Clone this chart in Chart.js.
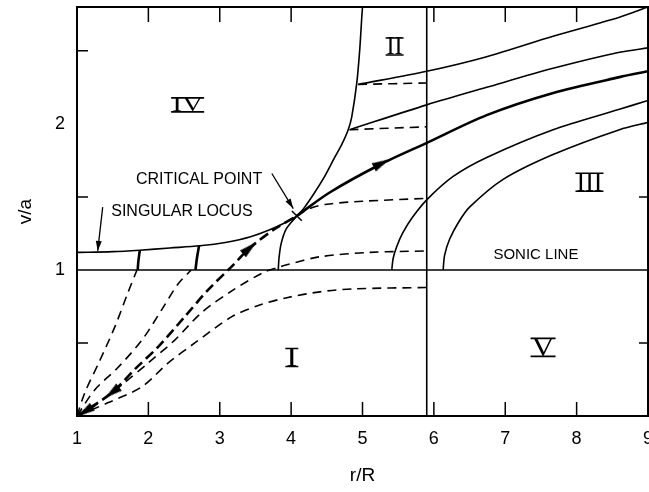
<!DOCTYPE html>
<html>
<head>
<meta charset="utf-8">
<script src="https://cdn.jsdelivr.net/npm/chart.js@4.4.1/dist/chart.umd.min.js"></script>
<style>
  html, body { margin: 0; padding: 0; background: #fff; }
</style>
</head>
<body>
<canvas id="plot" width="649" height="492"></canvas>
<script>
// tick labels and tick marks
var xTicks = [1, 2, 3, 4, 5, 6, 7, 8, 9];
var yTicks = [1, 2];
var bottomTicks = [2, 3, 4, 5, 6, 7, 8];
var topTicks = [2, 3, 4, 6, 7, 8];
var leftTicks = [0.5, 1.5, 2.5];
var rightTicks = [0.5, 1.5];

// curves, [r/R, v/a]
var singularLocus = [[1.00,1.12],[1.50,1.125],[1.88,1.135],[2.30,1.15],[2.72,1.165],[3.10,1.19],[3.42,1.225],[3.70,1.275],[3.90,1.32],[4.08,1.37],[4.19,1.43],[4.33,1.53],[4.47,1.64],[4.61,1.77],[4.71,1.86],[4.80,1.96],[4.85,2.05],[4.92,2.28],[4.96,2.50],[4.99,2.73],[5.00,2.80]];
var sepIn = [[1.00,0.00],[1.49,0.16],[1.81,0.32],[2.13,0.47],[2.51,0.68],[2.83,0.86],[3.18,1.03],[3.42,1.15],[3.77,1.28],[4.08,1.37]];
var sepOut = [[4.08,1.37],[4.54,1.53],[5.24,1.72],[5.90,1.87],[6.74,2.06],[7.66,2.21],[8.60,2.32],[9.00,2.36]];
var dash1 = [[1.00,0.00],[1.11,0.16],[1.32,0.38],[1.53,0.61],[1.71,0.84],[1.84,1.00]];
var tick1 = [[1.85,1.00],[1.86,1.06],[1.88,1.135]];
var dash2 = [[1.00,0.00],[1.25,0.18],[1.57,0.33],[1.91,0.52],[2.19,0.73],[2.41,0.90],[2.60,1.00]];
var tick2 = [[2.66,1.00],[2.68,1.08],[2.71,1.165]];
var dash4 = [[1.00,0.00],[1.25,0.07],[1.67,0.23],[1.99,0.36],[2.37,0.52],[2.75,0.71],[3.18,0.86],[3.60,0.98],[3.80,1.015],[3.94,1.035],[4.40,1.09],[5.10,1.12],[5.90,1.13]];
var dash5 = [[1.00,0.00],[1.43,0.09],[1.91,0.20],[2.27,0.36],[2.65,0.50],[3.17,0.68],[3.56,0.76],[3.94,0.81],[4.40,0.85],[4.87,0.87],[5.90,0.88]];
var critDash = [[4.08,1.37],[4.26,1.42],[4.50,1.45],[5.00,1.47],[5.90,1.49]];
var curveA = [[3.82,1.00],[3.83,1.08],[3.86,1.18],[3.93,1.28],[4.08,1.37]];
var curveB = [[5.41,1.00],[5.43,1.08],[5.48,1.16],[5.56,1.25],[5.70,1.36],[5.90,1.48],[6.27,1.64],[6.74,1.77],[7.67,1.96],[8.60,2.10],[9.00,2.16]];
var curveC = [[6.13,1.00],[6.15,1.10],[6.22,1.21],[6.35,1.33],[6.50,1.43],[6.97,1.62],[7.67,1.79],[8.60,1.96],[9.00,2.01]];
var line1 = [[4.94,2.27],[5.90,2.36],[6.74,2.46],[7.67,2.60],[8.60,2.73],[9.00,2.80]];
var line2 = [[4.82,1.96],[5.90,2.13],[6.74,2.25],[7.67,2.38],[8.60,2.49],[9.00,2.52]];
var dashII1 = [[4.94,2.27],[5.90,2.28]];
var dashII2 = [[4.82,1.96],[5.90,1.98]];
var sonicLine = [[1,1],[9,1]];
var divider = [[5.9,0],[5.9,2.8]];
var critical = [[4.08,1.37]];
// arrow heads: [x, y, rotation in degrees]
var arrows = [[3.42,1.15,49],[5.27,1.73,63],[1.11,0.03,237],[1.49,0.16,232]];

function pts(a) {
  return a.map(function(p) { return {x: p[0], y: p[1]}; });
}

function curve(data, width, dash) {
  return {
    data: pts(data),
    showLine: true,
    borderColor: '#000',
    borderWidth: width,
    borderDash: dash || [],
    pointRadius: 0,
    tension: 0.3,
    fill: false
  };
}

// slim arrow head used as point style
var head = document.createElement('canvas');
head.width = 9; head.height = 18;
var hc = head.getContext('2d');
hc.fillStyle = '#000';
hc.beginPath();
hc.moveTo(4.5, 0); hc.lineTo(9, 18); hc.lineTo(0, 18); hc.closePath();
hc.fill();

var thin = 1.6, thick = 2.6;
var dashed = [9, 6];

var datasets = [
  curve(sonicLine, thin),
  curve(divider, thin),
  curve(singularLocus, thin),
  curve(sepIn, thick, [10, 5]),
  curve(sepOut, thick),
  curve(dash1, thin, dashed),
  curve(tick1, thick),
  curve(dash2, thin, dashed),
  curve(tick2, thick),
  curve(dash4, thin, dashed),
  curve(dash5, thin, dashed),
  curve(critDash, thin, dashed),
  curve(curveA, thin),
  curve(curveB, thin),
  curve(curveC, thin),
  curve(line1, thin),
  curve(line2, thin),
  curve(dashII1, thin, dashed),
  curve(dashII2, thin, dashed),
  {
    data: pts(critical),
    showLine: false,
    pointStyle: 'crossRot',
    pointRadius: 7,
    borderColor: '#000',
    borderWidth: 1.5
  },
  {
    data: pts(arrows),
    showLine: false,
    pointStyle: head,
    rotation: arrows.map(function(a) { return a[2]; })
  }
];

function numeral(ctx, text, px, py, w, h) {
  ctx.save();
  ctx.font = '26px "Liberation Serif"';
  var m = ctx.measureText(text).width;
  ctx.translate(px, py);
  ctx.scale(w / m, h / 17);
  ctx.textAlign = 'center';
  ctx.textBaseline = 'middle';
  ctx.fillText(text, 0, 1);
  ctx.restore();
  ctx.beginPath();
  ctx.moveTo(px - w / 2 - 1, py - h / 2); ctx.lineTo(px + w / 2 + 1, py - h / 2);
  ctx.moveTo(px - w / 2 - 1, py + h / 2); ctx.lineTo(px + w / 2 + 1, py + h / 2);
  ctx.stroke();
}

function pointer(ctx, x0, y0, x1, y1) {
  ctx.beginPath();
  ctx.moveTo(x0, y0); ctx.lineTo(x1, y1);
  ctx.stroke();
  var ang = Math.atan2(y1 - y0, x1 - x0);
  ctx.beginPath();
  ctx.moveTo(x1, y1);
  ctx.lineTo(x1 - 10 * Math.cos(ang) + 3 * Math.sin(ang), y1 - 10 * Math.sin(ang) - 3 * Math.cos(ang));
  ctx.lineTo(x1 - 10 * Math.cos(ang) - 3 * Math.sin(ang), y1 - 10 * Math.sin(ang) + 3 * Math.cos(ang));
  ctx.closePath();
  ctx.fill();
}

var frame = {
  id: 'frame',
  afterDraw: function(chart) {
    var ctx = chart.ctx, a = chart.chartArea;
    var xs = chart.scales.x, ys = chart.scales.y;
    ctx.save();
    ctx.strokeStyle = '#000';
    ctx.fillStyle = '#000';
    ctx.lineWidth = 2;
    ctx.strokeRect(a.left, a.top, a.right - a.left, a.bottom - a.top);
    ctx.lineWidth = 1.5;
    ctx.beginPath();
    bottomTicks.forEach(function(v) { var p = xs.getPixelForValue(v); ctx.moveTo(p, a.bottom); ctx.lineTo(p, a.bottom - 14); });
    topTicks.forEach(function(v) { var p = xs.getPixelForValue(v); ctx.moveTo(p, a.top); ctx.lineTo(p, a.top + 15); });
    leftTicks.forEach(function(v) { var p = ys.getPixelForValue(v); ctx.moveTo(a.left, p); ctx.lineTo(a.left + 11, p); });
    rightTicks.forEach(function(v) { var p = ys.getPixelForValue(v); ctx.moveTo(a.right, p); ctx.lineTo(a.right - 9, p); });
    ctx.stroke();

    // text labels
    ctx.font = '16px "Liberation Sans"';
    ctx.textAlign = 'center';
    ctx.textBaseline = 'middle';
    ctx.fillText('CRITICAL POINT', xs.getPixelForValue(2.71), ys.getPixelForValue(1.62));
    ctx.fillText('SINGULAR LOCUS', xs.getPixelForValue(2.47), ys.getPixelForValue(1.40));
    ctx.font = '15px "Liberation Sans"';
    ctx.fillText('SONIC LINE', xs.getPixelForValue(7.43), ys.getPixelForValue(1.10));

    ctx.lineWidth = 1.3;
    pointer(ctx, xs.getPixelForValue(3.73), ys.getPixelForValue(1.66), xs.getPixelForValue(4.03), ys.getPixelForValue(1.42));
    pointer(ctx, xs.getPixelForValue(1.36), ys.getPixelForValue(1.43), xs.getPixelForValue(1.29), ys.getPixelForValue(1.13));

    // region numerals
    ctx.lineWidth = 1.6;
    numeral(ctx, 'IV', xs.getPixelForValue(2.55), ys.getPixelForValue(2.13), 31, 14);
    numeral(ctx, 'II', xs.getPixelForValue(5.45), ys.getPixelForValue(2.53), 16, 17);
    numeral(ctx, 'III', xs.getPixelForValue(8.18), ys.getPixelForValue(1.60), 26, 18);
    numeral(ctx, 'I', xs.getPixelForValue(4.01), ys.getPixelForValue(0.40), 11, 18);
    numeral(ctx, 'V', xs.getPixelForValue(7.53), ys.getPixelForValue(0.47), 23, 18);
    ctx.restore();
  }
};

var axisFont = { family: '"Liberation Sans", Arial, sans-serif', size: 18 };

new Chart(document.getElementById('plot'), {
  type: 'scatter',
  data: { datasets: datasets },
  options: {
    responsive: false,
    animation: false,
    devicePixelRatio: 1,
    layout: { autoPadding: false, padding: { top: 7, right: 1, left: 0, bottom: 0 } },
    plugins: {
      legend: { display: false },
      tooltip: { enabled: false }
    },
    scales: {
      x: {
        type: 'linear',
        min: 1,
        max: 9,
        grid: { display: false, drawTicks: false },
        border: { display: false },
        ticks: { font: axisFont, color: '#000', padding: 12 },
        afterBuildTicks: function(s) { s.ticks = xTicks.map(function(v) { return {value: v}; }); },
        afterFit: function(s) { s.height = 76; s.paddingLeft = 0; s.paddingRight = 0; },
        title: { display: true, text: 'r/R', color: '#000', font: { family: axisFont.family, size: 19 }, padding: { top: 0, bottom: 5 } }
      },
      y: {
        type: 'linear',
        min: 0,
        max: 2.8,
        grid: { display: false, drawTicks: false },
        border: { display: false },
        ticks: { font: axisFont, color: '#000', padding: 12 },
        afterBuildTicks: function(s) { s.ticks = yTicks.map(function(v) { return {value: v}; }); },
        afterFit: function(s) { s.width = 77; s.paddingTop = 0; s.paddingBottom = 0; },
        title: { display: true, text: 'v/a', color: '#000', font: { family: axisFont.family, size: 19 }, padding: { top: 14, bottom: 0 } }
      }
    }
  },
  plugins: [frame]
});
</script>
</body>
</html>
